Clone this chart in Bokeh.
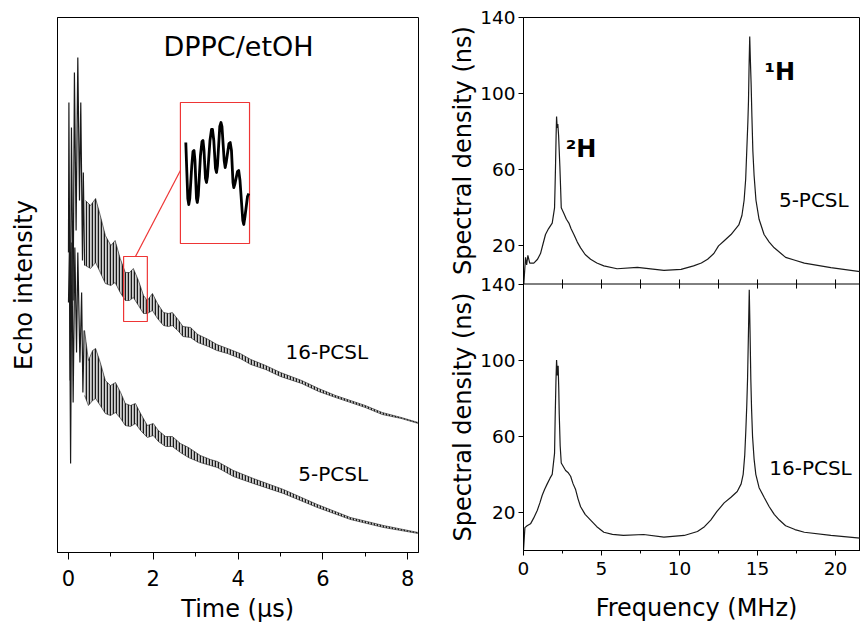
import math
from bokeh.plotting import figure
from bokeh.layouts import row, column
from bokeh.models import Range1d, FixedTicker, Label, Span
from bokeh.embed import file_html
from bokeh.resources import INLINE

FONT = "DejaVu Sans"

# ---------------- left panel: echo decay (arbitrary intensity units) ----------------
time_ticks = [0, 2, 4, 6, 8]
time_minor = [1, 3, 5, 7]

# initial large spikes (16-PCSL)
t16_head = [0.0, 0.01, 0.04, 0.07, 0.11, 0.14, 0.18, 0.22, 0.26, 0.29, 0.33, 0.35, 0.38]
I16_head = [300, 450, 172, 425, 252, 480, 322, 495, 352, 450, 292, 380, 287]
# modulated part (upper / lower envelope of the fast oscillation)
t16 = [0.40, 0.52, 0.64, 0.75, 0.87, 1.0, 1.1, 1.22, 1.34, 1.44, 1.53, 1.65, 1.77, 1.86,
       1.98, 2.1, 2.24, 2.36, 2.45, 2.6, 2.7, 2.88, 3.05, 3.3, 3.5, 3.75, 4.05, 4.3, 4.65,
       5.0, 5.5, 5.9, 6.3, 6.65, 7.0, 7.4, 7.85, 8.25]
hi16 = [352, 347, 354, 337, 317, 307, 312, 294, 280, 280, 284, 272, 257, 252, 259, 249, 240,
        239, 240, 232, 226, 225, 218, 213, 208, 204, 199, 193, 187, 180, 172, 164, 157, 152,
        147, 140, 135, 130]
lo16 = [287, 284, 290, 280, 269, 267, 270, 260, 252, 252, 255, 247, 239, 239, 242, 234, 227,
        226, 227, 221, 216, 215, 210, 206, 202, 199, 194, 188, 183, 176, 169, 161, 155, 150,
        145, 138, 134, 129]

# 5-PCSL
t5_head = [0.0, 0.02, 0.05, 0.08, 0.11, 0.15, 0.19, 0.22, 0.27, 0.31, 0.34, 0.37]
I5_head = [250, 300, 89, 310, 150, 305, 200, 300, 190, 260, 160, 222]
t5 = [0.38, 0.47, 0.57, 0.64, 0.75, 0.87, 0.99, 1.11, 1.23, 1.34, 1.46, 1.58, 1.70, 1.86, 2.0,
      2.12, 2.29, 2.45, 2.64, 2.83, 3.11, 3.35, 3.51, 3.89, 4.36, 5.07, 5.87, 6.65, 7.43, 8.25]
hi5 = [222, 192, 202, 204, 190, 172, 167, 170, 160, 149, 147, 149, 139, 127, 129, 122, 116,
       116, 109, 105, 97, 93, 91, 82, 74, 63, 48, 35, 27, 20]
lo5 = [157, 147, 152, 154, 147, 139, 137, 140, 134, 127, 126, 129, 122, 115, 117, 111, 106,
       106, 100, 95, 90, 87, 85, 76, 69, 59, 45, 33, 25, 19]

# magnified inset trace (drawn inside the big red box)
inset_t = [2.767, 2.790, 2.814, 2.837, 2.861, 2.908, 2.936, 2.960, 2.983, 3.019, 3.038, 3.061,
           3.113, 3.149, 3.172, 3.196, 3.231, 3.255, 3.278, 3.337, 3.373, 3.396, 3.427, 3.467,
           3.491, 3.514, 3.568, 3.597, 3.620, 3.672, 3.696, 3.719, 3.785, 3.814, 3.844, 3.880,
           3.899, 3.927, 3.986, 4.014, 4.045, 4.111, 4.134, 4.163, 4.222, 4.252]
inset_I = [410, 382, 354, 348, 354, 387, 401, 402, 392, 354, 350, 357, 397, 411, 412, 402,
           374, 370, 376, 412, 423, 423, 412, 384, 380, 387, 426, 430, 426, 392, 385, 390,
           409, 410, 402, 370, 365, 369, 381, 382, 372, 332, 328, 336, 356, 359]
small_box = dict(left=1.30, right=1.86, bottom=231, top=296)
big_box = dict(left=2.64, right=4.27, bottom=309, top=450)
connector_t = [1.58, 2.64]
connector_I = [296, 382]

# ---------------- right panels: spectral density ----------------
freq_ticks = [0, 5, 10, 15, 20]
freq_minor = [2.5, 7.5, 12.5, 17.5]
sd_ticks = [20, 60, 100, 140]          # lower panel (16-PCSL)
sd_ticks_upper = [160, 200, 240, 280]  # same values on the upper panel (5-PCSL)
sd_labels_upper = ["20", "60", "100", "140"]

f5 = [0.02, 0.13, 0.2, 0.28, 0.4, 0.66, 0.9, 1.09, 1.25, 1.41, 1.6, 1.84, 1.99, 2.02, 2.05,
      2.09, 2.12, 2.16, 2.2, 2.25, 2.33, 2.38, 2.42, 2.59, 2.75, 2.91, 3.05, 3.23, 3.45, 3.66,
      3.95, 4.3, 4.7, 5.15, 6.0, 7.3, 9.0, 10.1, 10.9, 11.4, 11.8, 12.2, 12.5, 12.9, 13.3,
      13.8, 14.0, 14.14, 14.24, 14.31, 14.38, 14.42, 14.46, 14.5, 14.54, 14.59, 14.64, 14.7,
      14.78, 14.9, 15.1, 15.42, 15.75, 16.07, 16.8, 17.4, 18.0, 19.7, 21.6]
S5 = [0, 14, 10, 15, 11, 11, 13, 16, 21, 26, 29, 32, 40, 50, 61, 78, 88, 82, 84, 78, 62, 50,
      40, 37, 34, 32, 29, 26, 22, 19, 15.5, 13, 11, 9.5, 8, 8.7, 7.2, 7.7, 9.5, 11, 13, 16, 20,
      23, 26, 31, 36, 44, 55, 70, 85, 96, 115, 130, 118, 105, 88, 70, 57, 44, 34, 26, 22, 19,
      14, 12.5, 11, 8.6, 6.5]

f16 = [0.0, 0.09, 0.23, 0.45, 0.65, 0.88, 1.05, 1.2, 1.35, 1.52, 1.7, 1.84, 1.99, 2.03, 2.08,
       2.12, 2.17, 2.22, 2.26, 2.29, 2.35, 2.42, 2.7, 2.85, 3.02, 3.18, 3.34, 3.5, 3.66, 3.95,
       4.3, 4.7, 5.15, 5.7, 6.4, 7.7, 9.0, 10.3, 11.15, 11.6, 12.0, 12.4, 12.86, 13.3, 13.7,
       13.95, 14.08, 14.18, 14.25, 14.31, 14.36, 14.42, 14.47, 14.52, 14.57, 14.62, 14.68,
       14.78, 14.89, 15.1, 15.42, 15.75, 16.07, 16.4, 16.8, 17.4, 18.0, 19.7, 21.6]
S16 = [0, 12, 13, 14, 17, 21, 25, 29, 32, 35, 38, 40, 51, 70, 89, 100, 92, 97, 85, 72, 55, 46,
       42, 41, 39, 35, 32, 27, 23, 19, 16, 12.5, 9.6, 8.5, 7.9, 8.4, 7, 7.9, 10, 12.5, 16,
       20.5, 25, 28, 31, 35, 40, 50, 63, 76, 90, 115, 137, 115, 90, 74, 60, 48, 40, 33, 28, 23,
       19, 16, 13, 11, 9.6, 7.9, 6.5]

INK = "#1a1a1a"
RED = "#ee3535"


def base_style(p):
    p.grid.visible = False
    p.outline_line_color = "black"
    p.outline_line_width = 1
    p.background_fill_color = "white"
    p.border_fill_color = "white"


def txt(**kw):
    d = dict(text_font=FONT, text_color="black")
    d.update(kw)
    return Label(**d)


def strip(width, height, x_range):
    """An axis-free canvas that only carries title texts."""
    s = figure(width=width, height=height, x_range=x_range,
               y_range=Range1d(0, height), output_backend="svg", toolbar_location=None,
               x_axis_location=None, y_axis_location=None, min_border=0)
    s.grid.visible = False
    s.outline_line_color = None
    s.background_fill_color = "white"
    s.border_fill_color = "white"
    return s


# ---------------- left figure ----------------
tx = Range1d(-0.259, 8.255)
p1 = figure(width=445, height=594, x_range=tx, y_range=Range1d(0, 535),
            output_backend="svg", toolbar_location=None,
            min_border_left=57, min_border_right=27, min_border_top=17, min_border_bottom=42)
base_style(p1)
p1.xaxis.ticker = FixedTicker(ticks=time_ticks, minor_ticks=time_minor)
p1.xaxis.major_tick_out = 7
p1.xaxis.major_tick_in = 0
p1.xaxis.minor_tick_out = 4
p1.xaxis.minor_tick_in = 0
p1.xaxis.major_label_text_font = FONT
p1.xaxis.major_label_text_font_size = "21px"
p1.xaxis.major_label_text_color = "black"
p1.xaxis.major_label_standoff = 10
p1.yaxis.ticker = FixedTicker(ticks=[])
p1.yaxis.major_tick_line_color = None
p1.yaxis.minor_tick_line_color = None
p1.yaxis.axis_label = "Echo intensity"
p1.yaxis.axis_label_text_font = FONT
p1.yaxis.axis_label_text_font_size = "24px"
p1.yaxis.axis_label_text_font_style = "normal"
p1.yaxis.axis_label_text_color = "black"
p1.yaxis.axis_label_standoff = 20
for ax in (p1.xaxis, p1.yaxis):
    ax.axis_line_color = "black"

for tt, lo, hi, th, ih in ((t16, lo16, hi16, t16_head, I16_head),
                           (t5, lo5, hi5, t5_head, I5_head)):
    p1.varea(x=tt, y1=lo, y2=hi, fill_color="#666666", fill_alpha=0.3,
             hatch_pattern="vertical_line", hatch_scale=3, hatch_weight=1.5,
             hatch_color=INK)
    p1.line(tt, hi, line_color=INK, line_width=0.7, line_alpha=0.85)
    p1.line(tt, lo, line_color=INK, line_width=0.7, line_alpha=0.85)
    p1.line(th, ih, line_color=INK, line_width=1.2)

p1.quad(fill_color=None, line_color=RED, line_width=1.2, **{k: [v] for k, v in small_box.items()})
p1.quad(fill_color=None, line_color=RED, line_width=1.2, **{k: [v] for k, v in big_box.items()})
p1.line(connector_t, connector_I, line_color=RED, line_width=1.2)
p1.line(inset_t, inset_I, line_color="black", line_width=2.8, line_join="round")

p1.add_layout(txt(x=4.01, y=491, text="DPPC/etOH", text_align="center",
                  text_font_size="27px"))
p1.add_layout(txt(x=5.12, y=189, text="16-PCSL", text_font_size="20px"))
p1.add_layout(txt(x=5.42, y=67, text="5-PCSL", text_font_size="20px"))

time_title = strip(445, 28, tx)
time_title.add_layout(txt(x=3.99, y=14, text="Time (µs)", text_align="center",
                          text_baseline="middle", text_font_size="24px"))

# ---------------- y titles of the right panels ----------------
sd_titles = strip(32, 622, Range1d(0, 32))
for yc in (472, 205.5):
    sd_titles.add_layout(txt(x=17.5, y=yc, text="Spectral density (ns)", angle=math.pi / 2,
                             text_align="center", text_baseline="middle",
                             text_font_size="24px"))

# ---------------- right figure: two stacked panels sharing one frame ----------------
fx = Range1d(0, 21.6)
p2 = figure(width=383, height=584, x_range=fx, y_range=Range1d(0, 280),
            output_backend="svg", toolbar_location=None,
            min_border_left=46, min_border_right=0, min_border_top=17, min_border_bottom=34)
base_style(p2)
p2.extra_y_ranges = {"upper": Range1d(-140, 140)}

yax = p2.yaxis[0]
yax.ticker = FixedTicker(ticks=sd_ticks + sd_ticks_upper)
yax.major_label_overrides = {float(k): v for k, v in zip(sd_ticks_upper, sd_labels_upper)}
yax.major_tick_out = 5
yax.major_tick_in = 0
yax.minor_tick_line_color = None
yax.major_label_text_font = FONT
yax.major_label_text_font_size = "18.5px"
yax.major_label_text_color = "black"
yax.major_label_standoff = 3
yax.axis_line_color = "black"

xb = p2.xaxis[0]
xb.ticker = FixedTicker(ticks=freq_ticks, minor_ticks=freq_minor)
xb.major_tick_out = 5
xb.major_tick_in = 0
xb.minor_tick_out = 3
xb.minor_tick_in = 0
xb.major_label_text_font = FONT
xb.major_label_text_font_size = "18.5px"
xb.major_label_text_color = "black"
xb.major_label_standoff = 6
xb.axis_line_color = "black"

# separator between the two panels, with its ticks
p2.add_layout(Span(location=140, dimension="width", line_color="black", line_width=1))
mid_ticks = freq_ticks + freq_minor
p2.segment(x0=mid_ticks, x1=mid_ticks, y0=[137.6] * len(mid_ticks),
           y1=[142.4] * len(mid_ticks), line_color="black", line_width=1)

p2.line(f5, S5, line_color=INK, line_width=1.2, y_range_name="upper")
p2.line(f16, S16, line_color=INK, line_width=1.2)

p2.add_layout(txt(x=2.7, y=63.8, y_range_name="upper", text="²H", text_font_size="24px",
                  text_font_style="bold"))
p2.add_layout(txt(x=15.45, y=104, y_range_name="upper", text="¹H", text_font_size="24px",
                  text_font_style="bold"))
p2.add_layout(txt(x=16.37, y=37.9, y_range_name="upper", text="5-PCSL",
                  text_font_size="20px"))
p2.add_layout(txt(x=15.75, y=37.2, text="16-PCSL", text_font_size="20px"))

freq_title = strip(383, 38, fx)
freq_title.add_layout(txt(x=11.09, y=15, text="Frequency (MHz)", text_align="center",
                          text_baseline="middle", text_font_size="24px"))

layout = row(column(p1, time_title), sd_titles, column(p2, freq_title))
open("out.html", "w").write(file_html(layout, INLINE))
